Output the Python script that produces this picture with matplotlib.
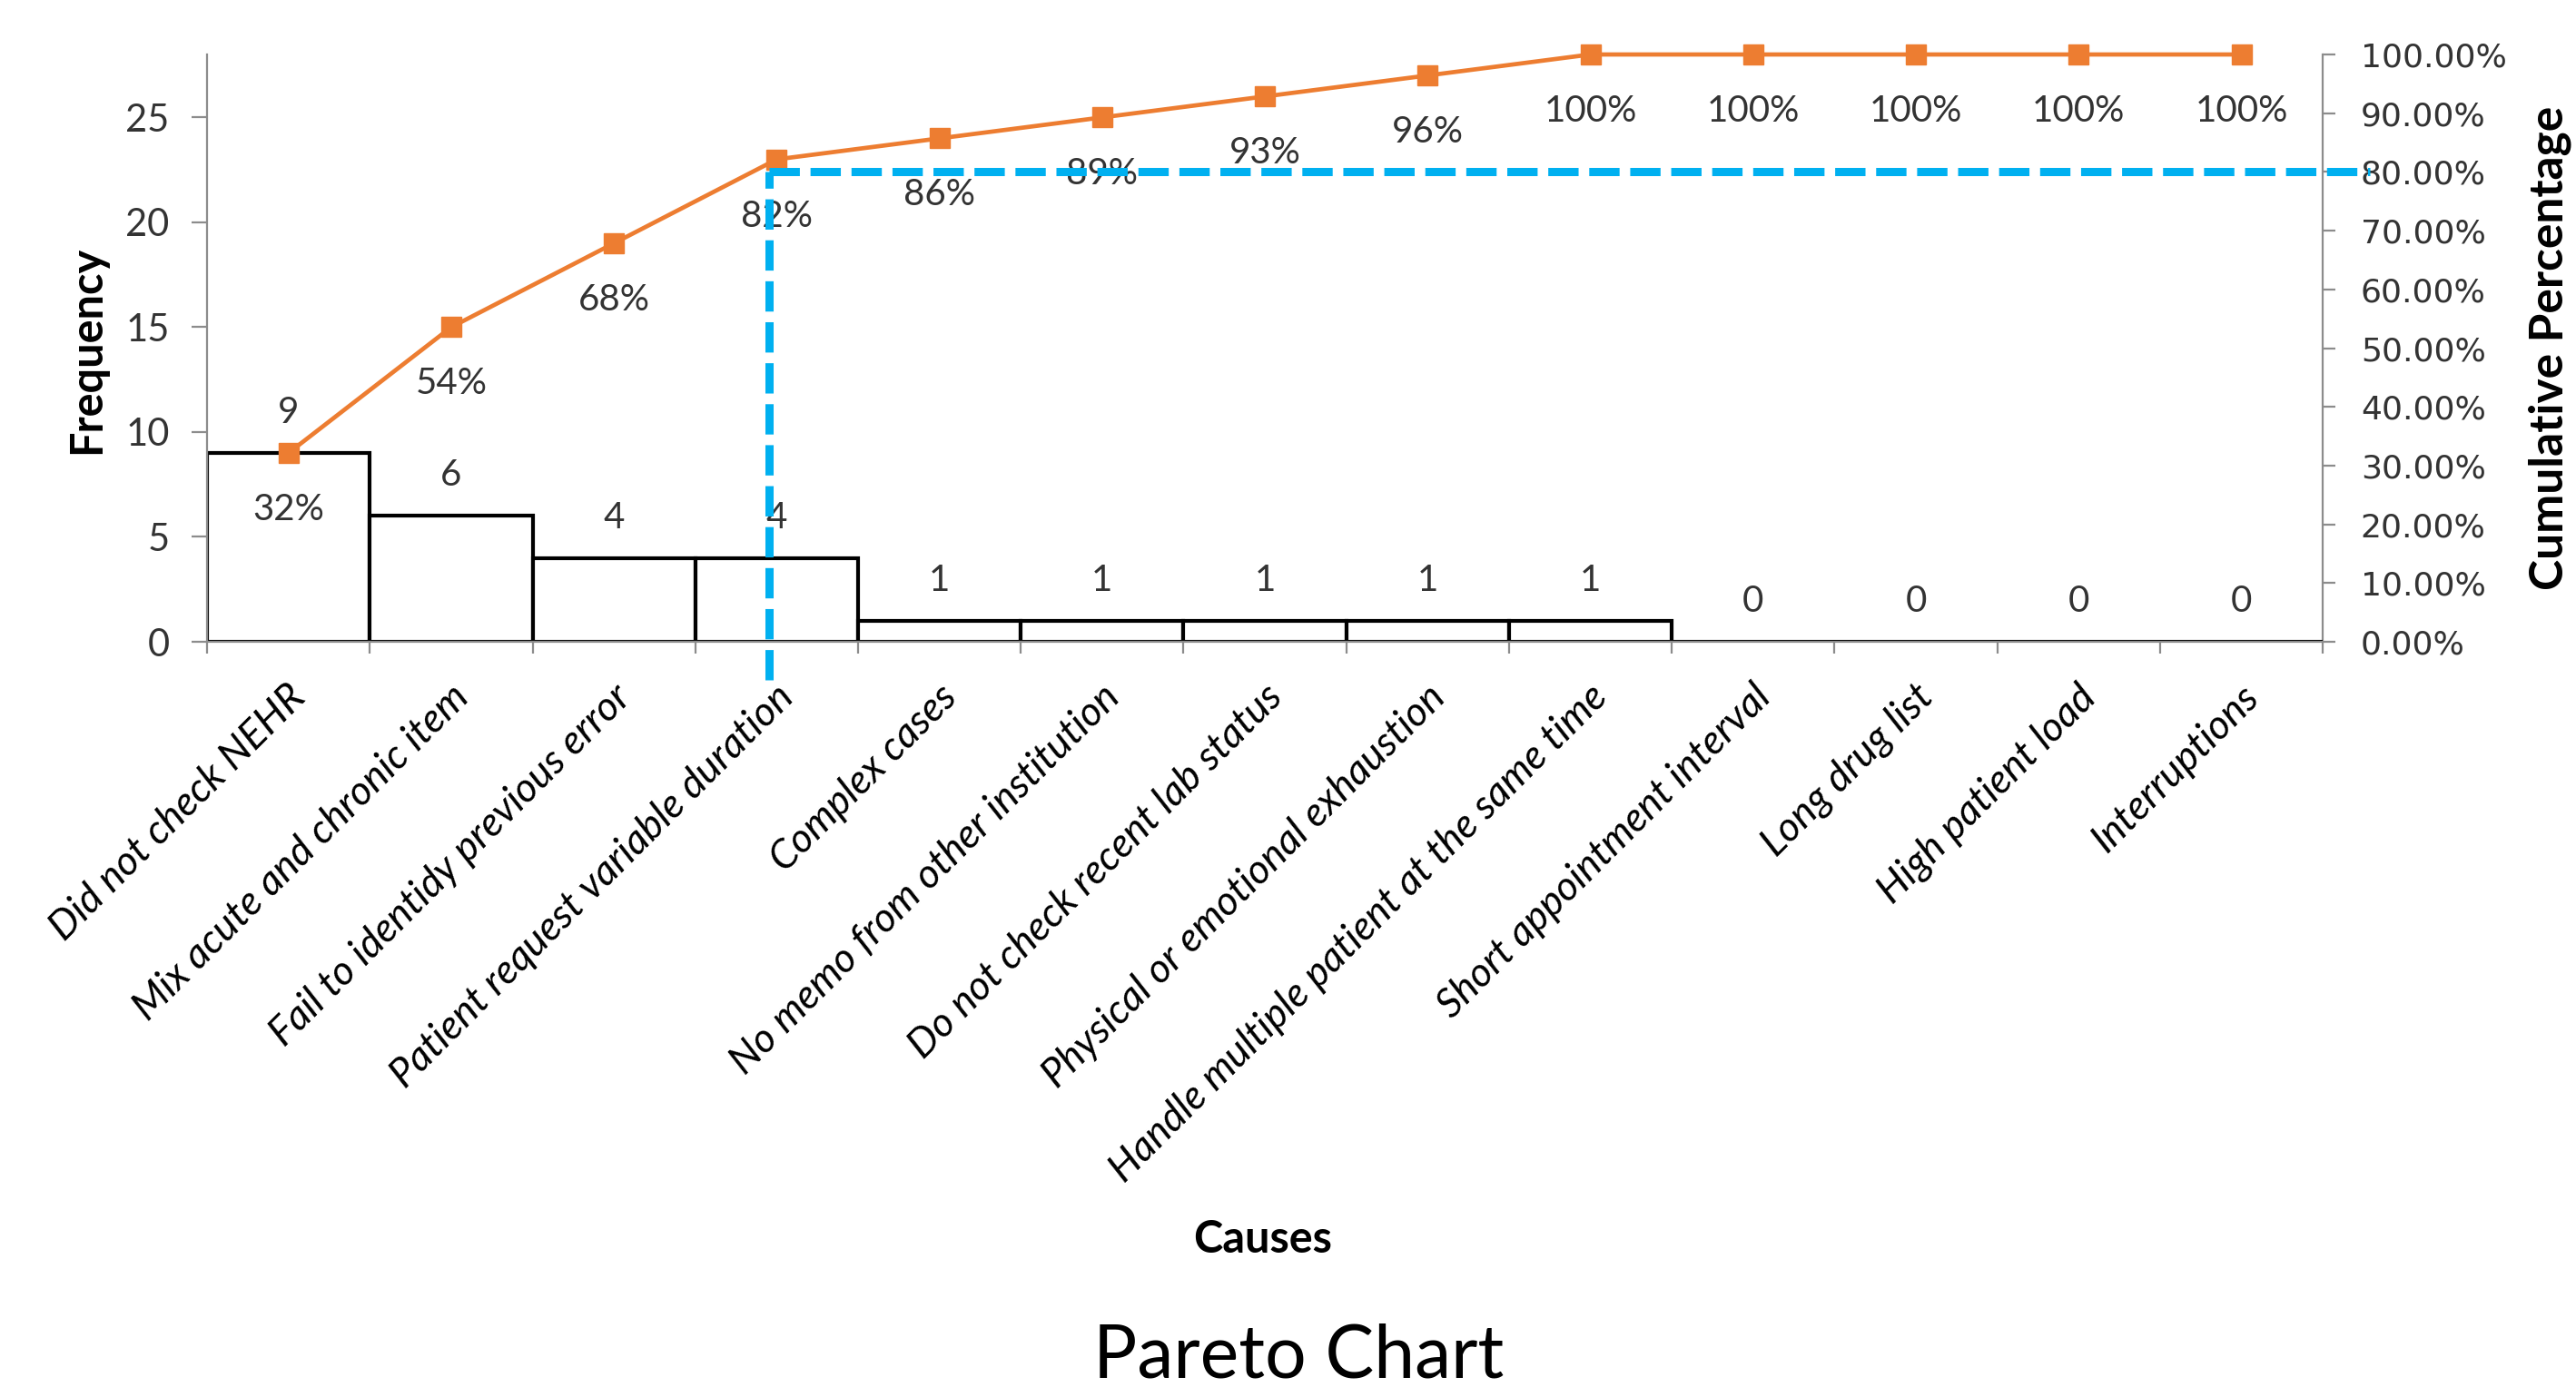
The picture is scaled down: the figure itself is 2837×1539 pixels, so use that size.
import matplotlib.pyplot as plt
import numpy as np
from matplotlib.transforms import ScaledTranslation

plt.rcParams['font.family'] = ['Lato', 'DejaVu Sans']

# data
causes = ['Did not check NEHR', 'Mix acute and chronic item', 'Fail to identidy previous error',
          'Patient request variable duration', 'Complex cases', 'No memo from other institution',
          'Do not check recent lab status', 'Physical or emotional exhaustion',
          'Handle multiple patient at the same time', 'Short appointment interval',
          'Long drug list', 'High patient load', 'Interruptions']
frequency = [9, 6, 4, 4, 1, 1, 1, 1, 1, 0, 0, 0, 0]
pct_ticks = [0.0, 0.1, 0.2, 0.3, 0.4, 0.5, 0.6, 0.7, 0.8, 0.9, 1.0]
freq_ticks = [0, 5, 10, 15, 20, 25]
cutoff = 0.80
cutoff_cause = 3  # index of the cause where the 80% guide drops

orange = '#ED7D31'
blue = '#00B0F0'
grey = '#8C8C8C'
txt = '#333333'

x = np.arange(len(causes))
cum = np.cumsum(frequency)
total = cum[-1]

fig = plt.figure(figsize=(28.37, 15.39), dpi=100)
ax = fig.add_axes([0.0804, 0.5406, 0.8213, 0.4204])

# bars
ax.bar(x, frequency, width=1.0, color='white', edgecolor='black', linewidth=3, zorder=2)
for xi, f in zip(x, frequency):
    ax.annotate(str(f), (xi, f), xytext=(0, 32), textcoords='offset points',
                ha='center', va='center', fontsize=29, color=txt, zorder=3)

# cumulative line (drawn on count scale)
ax.plot(x, cum, color=orange, lw=3.4, marker='s', ms=16, zorder=4, clip_on=False)
for xi, c in zip(x, cum):
    ax.annotate(f'{round(100 * c / total)}%', (xi, c), xytext=(0, -45), textcoords='offset points',
                ha='center', va='center', fontsize=29, color=txt, zorder=3)

# 80% guide
y80 = cutoff * total
gx = cutoff_cause - 0.045
ax.plot([gx, gx], [-1.83, y80], color=blue, lw=6.5, dashes=(3.7, 1.3), zorder=6, clip_on=False)
ax.plot([gx, len(causes) - 0.21], [y80, y80], color=blue, lw=6.5, dashes=(3.7, 1.3),
        zorder=6, clip_on=False)

ax.set_xlim(-0.5, len(causes) - 0.5)
ax.set_ylim(0, total)

ax.spines['top'].set_visible(False)
ax.spines['right'].set_visible(False)
ax.spines['left'].set_color(grey)
ax.spines['bottom'].set_color(grey)
ax.spines['left'].set_linewidth(1.6)
ax.spines['bottom'].set_linewidth(1.6)

ax.set_yticks(freq_ticks)
ax.tick_params(axis='y', length=12, width=1.6, color=grey, pad=18, labelsize=30, labelcolor=txt)

ax.set_xticks(x)
ax.set_xticklabels(causes, rotation=45, ha='right', va='top', rotation_mode='anchor',
                   fontstyle='italic', fontsize=32, color='black')
ax.set_xticks(np.arange(len(causes) + 1) - 0.5, minor=True)
ax.tick_params(axis='x', which='major', length=0, pad=29)
ax.tick_params(axis='x', which='minor', length=9, width=1.6, color=grey)
shift = ScaledTranslation(-0.02, 0, fig.dpi_scale_trans)
for lbl in ax.get_xticklabels():
    lbl.set_transform(lbl.get_transform() + shift)

# right axis
ax2 = ax.twinx()
ax2.set_ylim(0, 1)
ax2.set_yticks(pct_ticks)
ax2.set_yticklabels([f'{p * 100:.2f}%' for p in pct_ticks], family='DejaVu Sans')
ax2.tick_params(axis='y', length=10, width=1.6, color=grey, pad=20, labelsize=26, labelcolor=txt)
for s in ['top', 'left', 'bottom']:
    ax2.spines[s].set_visible(False)
ax2.spines['right'].set_color(grey)
ax2.spines['right'].set_linewidth(1.6)
ax.set_zorder(ax2.get_zorder() + 1)
ax.patch.set_visible(False)

# titles
fig.text(96 / 2837, 1 - 385 / 1539, 'Frequency', rotation=90, ha='center', va='center',
         fontsize=35, fontweight='bold')
fig.text(2808 / 2837, 1 - 383 / 1539, 'Cumulative Percentage', rotation=90, ha='center',
         va='center', fontsize=37, fontweight='bold')
fig.text(1391 / 2837, 1 - 1380 / 1539, 'Causes', ha='center', va='baseline',
         fontsize=35, fontweight='bold')
fig.text(1430 / 2837, 1 - 1518 / 1539, 'Pareto Chart', ha='center', va='baseline', fontsize=58)

fig.savefig('out.png', dpi=100)
